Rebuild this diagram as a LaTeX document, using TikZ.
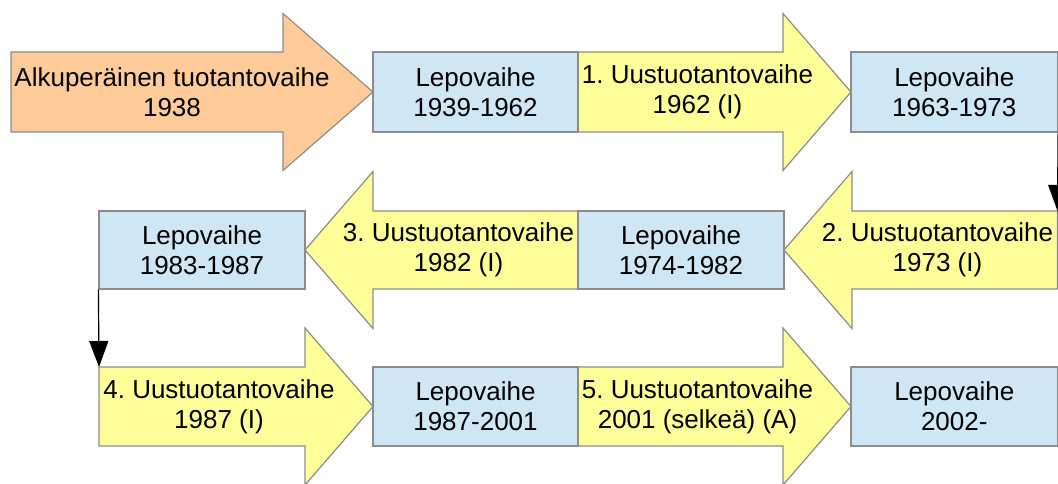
\documentclass[tikz,border=0pt]{standalone}
\usepackage{fontspec}
\setmainfont{Liberation Sans}
\usetikzlibrary{arrows.meta}
\definecolor{restblue}{HTML}{CFE7F5}
\definecolor{newyellow}{HTML}{FFFF99}
\definecolor{origorange}{HTML}{FFCC99}
\definecolor{edgegray}{HTML}{8C8C8C}
\frenchspacing

% block arrow: #1 fill, #2 tail x, #3 head base x, #4 tip x, #5 centre y, #6 half body height
\newcommand\phasearrow[6]{%
  \draw[outline, fill=#1]
    (#2,#5-#6) -- (#3,#5-#6) -- (#3,#5-78.5) -- (#4,#5) -- (#3,#5+78.5)
    -- (#3,#5+#6) -- (#2,#5+#6) -- cycle;}

\begin{document}
\begin{tikzpicture}[x=1pt,y=-1pt,
  outline/.style={draw=edgegray, line width=1.2pt, line join=miter},
  restbox/.style={outline, fill=restblue, rectangle, inner sep=0pt},
  phasetext/.style={font=\fontsize{26}{30}\selectfont, align=center, text=black, inner sep=0pt},
  link/.style={draw=black, line width=1.2pt, -{Triangle[length=26pt,width=19pt]}}]
\useasboundingbox (0,0) rectangle (1058,484);

% row 1
\phasearrow{origorange}{11}{283}{373}{92}{40}
\phasearrow{newyellow}{578}{783}{851}{92}{40}
\node[restbox, minimum width=205pt, minimum height=80pt] (box1) at (475.5,92) {};
\node[restbox, minimum width=206.5pt, minimum height=80pt] (box2) at (954.25,92) {};
\node[phasetext] (t0) at (172,92) {Alkuperäinen tuotantovaihe\\1938};
\node[phasetext] (l1) at (box1) {Lepovaihe\\1939-1962};
\node[phasetext] (t1) at (697.5,92) {1. Uustuotantovaihe\\1962 (I)};
\node[phasetext] (l2) at (box2) {Lepovaihe\\1963-1973};

% row 2
\phasearrow{newyellow}{1057.5}{852}{784}{250}{39}
\phasearrow{newyellow}{578}{373}{305}{250}{39}
\node[restbox, minimum width=206pt, minimum height=78pt] (box3) at (681,250) {};
\node[restbox, minimum width=206pt, minimum height=78pt] (box4) at (202,250) {};
\node[phasetext] (t2) at (937.5,250) {2. Uustuotantovaihe\\1973 (I)};
\node[phasetext] (l3) at (box3) {Lepovaihe\\1974-1982};
\node[phasetext] (t3) at (458.5,250) {3. Uustuotantovaihe\\1982 (I)};
\node[phasetext] (l4) at (box4) {Lepovaihe\\1983-1987};

% row 3
\phasearrow{newyellow}{99}{305}{373}{406.5}{39.5}
\phasearrow{newyellow}{578}{783}{851}{406.5}{39.5}
\node[restbox, minimum width=205pt, minimum height=79pt] (box5) at (475.5,406.5) {};
\node[restbox, minimum width=206.5pt, minimum height=79pt] (box6) at (954.25,406.5) {};
\node[phasetext] (t4) at (219,406.5) {4. Uustuotantovaihe\\1987 (I)};
\node[phasetext] (l5) at (box5) {Lepovaihe\\1987-2001};
\node[phasetext] (t5) at (697.5,406.5) {5. Uustuotantovaihe\\2001 (selkeä) (A)};
\node[phasetext] (l6) at (box6) {Lepovaihe\\2002-};

% row-to-row links
\coordinate (row2start) at (1057.5,211);
\coordinate (row3start) at (99,367);
\draw[link] (box2.south east) -- (row2start);
\draw[link] (box4.south west) -- (row3start);
\end{tikzpicture}
\end{document}
